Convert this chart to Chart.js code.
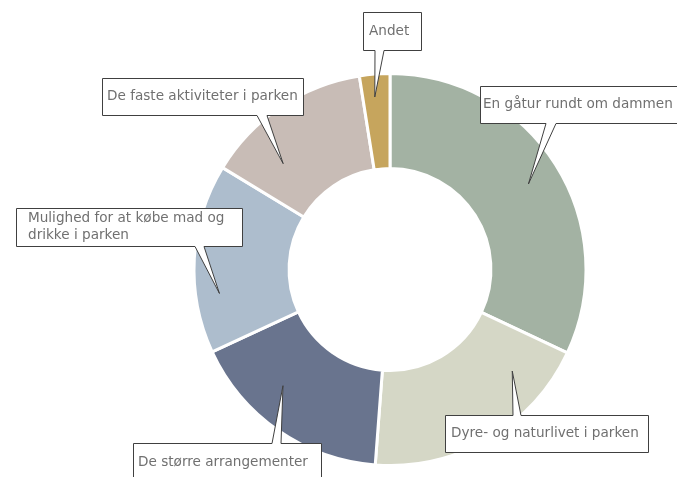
<!DOCTYPE html>
<html>
<head>
<meta charset="utf-8">
<script src="https://cdn.jsdelivr.net/npm/chart.js@4.4.1/dist/chart.umd.min.js"></script>
<style>
  body { margin: 0; background: #fff; }
  #wrap { width: 677px; height: 477px; }
</style>
</head>
<body>
<div id="wrap"><canvas id="donut" width="677" height="477"></canvas></div>
<script>
// Answers, clockwise from the top
var categories = [
    'En gåtur rundt om dammen',
    'Dyre- og naturlivet i parken',
    'De større arrangementer',
    ['Mulighed for at købe mad og', 'drikke i parken'],
    'De faste aktiviteter i parken',
    'Andet'
];
var shares = [32.0, 19.2, 16.9, 15.6, 13.8, 2.5];
var sliceColors = ['#a3b2a3', '#d5d7c6', '#69748e', '#adbdcd', '#c8bcb6', '#c6a55d'];

// Callout boxes: box [x, y, w, h], edge the pointer leaves from, pointer base,
// where the tip sits inside its slice (fraction of sweep, fraction of ring depth),
// and the left text padding
var callouts = [
    { box: [480, 86, 205, 37], edge: 'bottom', base: [546, 556], tip: [0.506, 0.65], pad: 3 },
    { box: [445, 415, 203, 37], edge: 'top', base: [513, 521], tip: [0.21, 0.61], pad: 6 },
    { box: [133, 443, 188, 45], edge: 'top', base: [272, 281], tip: [0.63, 0.60], pad: 5 },
    { box: [16, 208, 226, 38], edge: 'bottom', base: [195, 204], tip: [0.30, 0.75], pad: 12 },
    { box: [102, 78, 201, 37], edge: 'bottom', base: [257, 267], tip: [0.27, 0.52], pad: 5 },
    { box: [363, 12, 58, 38], edge: 'bottom', base: [375, 384], tip: [0.44, 0.76], pad: 6 }
];

var calloutPlugin = {
    id: 'callouts',
    afterDraw: function(chart) {
        var ctx = chart.ctx;
        var arcs = chart.getDatasetMeta(0).data;
        ctx.save();
        ctx.font = '13.6px "DejaVu Sans", sans-serif';
        ctx.textBaseline = 'middle';
        ctx.textAlign = 'left';
        arcs.forEach(function(arc, i) {
            var c = callouts[i];
            var p = arc.getProps(['x', 'y', 'startAngle', 'endAngle', 'innerRadius', 'outerRadius'], true);
            var a = p.startAngle + c.tip[0] * (p.endAngle - p.startAngle);
            var r = p.innerRadius + c.tip[1] * (p.outerRadius - p.innerRadius);
            var tx = p.x + Math.cos(a) * r;
            var ty = p.y + Math.sin(a) * r;

            var x = c.box[0] + 0.5, y = c.box[1] + 0.5, w = c.box[2], h = c.box[3];
            ctx.beginPath();
            if (c.edge === 'bottom') {
                ctx.moveTo(x, y);
                ctx.lineTo(x + w, y);
                ctx.lineTo(x + w, y + h);
                ctx.lineTo(c.base[1], y + h);
                ctx.lineTo(tx, ty);
                ctx.lineTo(c.base[0], y + h);
                ctx.lineTo(x, y + h);
            } else {
                ctx.moveTo(x, y);
                ctx.lineTo(c.base[0], y);
                ctx.lineTo(tx, ty);
                ctx.lineTo(c.base[1], y);
                ctx.lineTo(x + w, y);
                ctx.lineTo(x + w, y + h);
                ctx.lineTo(x, y + h);
            }
            ctx.closePath();
            ctx.fillStyle = '#ffffff';
            ctx.fill();
            ctx.strokeStyle = '#404040';
            ctx.lineWidth = 1;
            ctx.stroke();

            // label text
            var lines = [].concat(chart.data.labels[i]);
            var lh = 17;
            var cy = c.box[1] + c.box[3] / 2;
            if (c.edge === 'top' && c.box[1] + c.box[3] > 477) cy = c.box[1] + 19;
            var startY = cy - (lines.length - 1) * lh / 2;
            ctx.fillStyle = '#707070';
            lines.forEach(function(line, k) {
                ctx.fillText(line, c.box[0] + c.pad, startY + k * lh);
            });
        });
        ctx.restore();
    }
};

var donutChart = new Chart(document.getElementById('donut').getContext('2d'), {
    type: 'doughnut',
    data: {
        labels: categories,
        datasets: [{
            data: shares,
            backgroundColor: sliceColors,
            borderColor: '#ffffff',
            borderWidth: 3,
            hoverOffset: 0
        }]
    },
    options: {
        responsive: false,
        animation: false,
        cutout: '51.5%',
        layout: { padding: { left: 103, right: 0, top: 72, bottom: 10 } },
        plugins: {
            legend: { display: false },
            tooltip: { enabled: false }
        }
    },
    plugins: [calloutPlugin]
});
</script>
</body>
</html>
